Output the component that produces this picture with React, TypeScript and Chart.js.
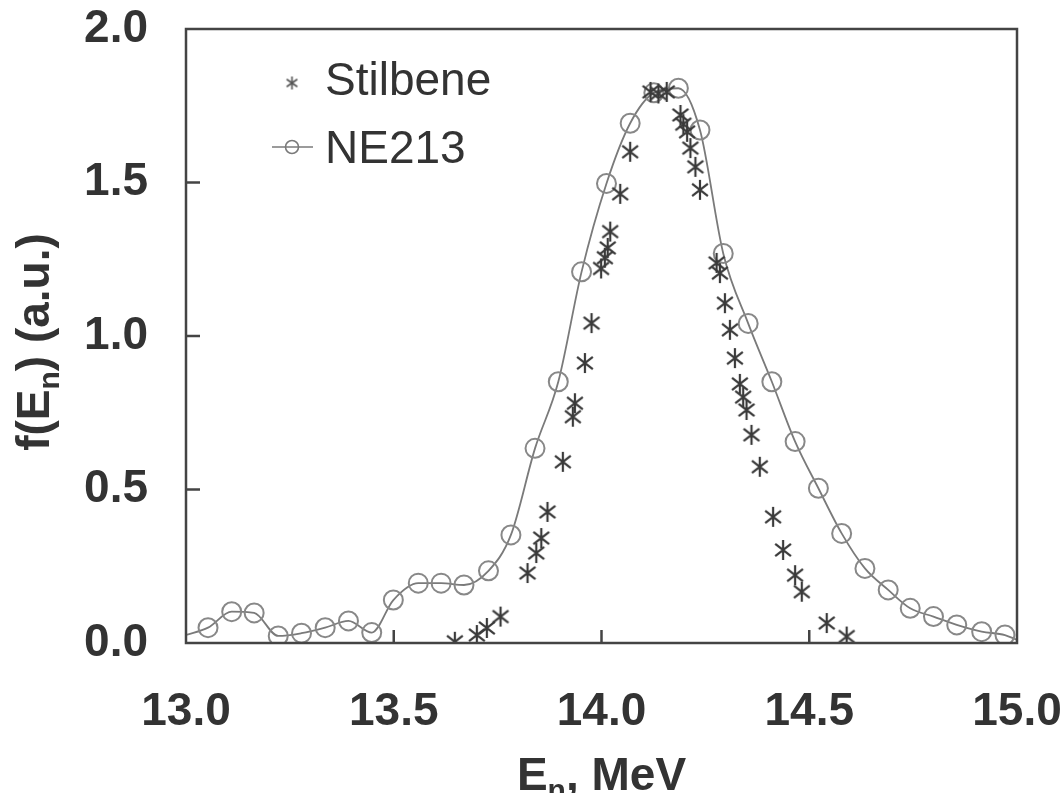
import React, { useEffect, useRef } from "react";
import { Chart, registerables } from "chart.js";
Chart.register(...registerables);

const FONT = "'Liberation Sans', Arial, Helvetica, sans-serif";

const xTickValues = [13.0, 13.5, 14.0, 14.5, 15.0];
const yTickValues = [0.0, 0.5, 1.0, 1.5, 2.0];

const seriesLabels = ["Stilbene", "NE213"];

const stilbeneX = [
  13.647, 13.7, 13.724, 13.757, 13.822, 13.843, 13.855, 13.87, 13.907, 13.931,
  13.936, 13.96, 13.976, 13.999, 14.008, 14.015, 14.021, 14.045, 14.069, 14.118,
  14.137, 14.157, 14.19, 14.197, 14.206, 14.214, 14.226, 14.237, 14.277, 14.285,
  14.297, 14.309, 14.321, 14.333, 14.341, 14.349, 14.361, 14.381, 14.413, 14.437,
  14.466, 14.482, 14.542, 14.59,
];
const stilbeneY = [
  0.004, 0.026, 0.049, 0.086, 0.228, 0.293, 0.342, 0.427, 0.59, 0.737,
  0.781, 0.912, 1.042, 1.22, 1.255, 1.287, 1.34, 1.463, 1.6, 1.795,
  1.79, 1.795, 1.72, 1.69, 1.665, 1.612, 1.551, 1.476, 1.238, 1.205,
  1.107, 1.02, 0.928, 0.844, 0.801, 0.759, 0.678, 0.574, 0.411, 0.303,
  0.221, 0.167, 0.065, 0.021,
];

const ne213X = [
  13.0, 13.053, 13.11, 13.164, 13.222, 13.278, 13.335, 13.391, 13.447, 13.499,
  13.559, 13.614, 13.669, 13.728, 13.782, 13.84, 13.896, 13.952, 14.012, 14.069,
  14.126, 14.185, 14.237, 14.293, 14.353, 14.41, 14.466, 14.522, 14.578, 14.634,
  14.69, 14.743, 14.799, 14.855, 14.915, 14.971, 15.0,
];
const ne213Y = [
  0.026, 0.05, 0.102, 0.098, 0.023, 0.032, 0.05, 0.072, 0.034, 0.14,
  0.195, 0.195, 0.189, 0.235, 0.352, 0.634, 0.851, 1.209, 1.497, 1.693,
  1.792, 1.807, 1.671, 1.269, 1.041, 0.851, 0.656, 0.504, 0.357, 0.243,
  0.173, 0.113, 0.086, 0.059, 0.037, 0.026, 0.01,
];

function makeAsterisk(size: number, lw: number, color: string, angleDeg: number) {
  const c = document.createElement("canvas");
  c.width = size;
  c.height = size;
  const g = c.getContext("2d")!;
  g.strokeStyle = color;
  g.lineWidth = lw;
  const cx = size / 2;
  const cy = size / 2;
  const r = size / 2 - 1;
  const a = (angleDeg * Math.PI) / 180;
  const dx = r * Math.sin(a);
  const dy = r * Math.cos(a);
  g.beginPath();
  g.moveTo(cx, cy - r);
  g.lineTo(cx, cy + r);
  g.moveTo(cx - dx, cy - dy);
  g.lineTo(cx + dx, cy + dy);
  g.moveTo(cx + dx, cy - dy);
  g.lineTo(cx - dx, cy + dy);
  g.stroke();
  return c;
}

function zeroPad(s: any) {
  s.paddingTop = 0;
  s.paddingBottom = 0;
  s.paddingLeft = 0;
  s.paddingRight = 0;
}

export default function App() {
  const ref = useRef<HTMLCanvasElement | null>(null);

  useEffect(() => {
    if (!ref.current) return;
    const starBig = makeAsterisk(22, 2.2, "#3a3a3a", 52);
    const starSmall = makeAsterisk(15, 1.6, "#555", 55);
    const lastIdx = ne213X.length - 1;

    const framePlugin = {
      id: "frameTicks",
      afterDatasetsDraw(chart: any) {
        const { ctx, chartArea: a } = chart;
        const xs = chart.scales.x;
        const ys = chart.scales.y;
        ctx.save();
        ctx.strokeStyle = "#444";
        ctx.lineWidth = 2.5;
        ctx.strokeRect(a.left, a.top, a.right - a.left, a.bottom - a.top);
        ctx.beginPath();
        xs.ticks.forEach((t: any) => {
          const px = xs.getPixelForValue(t.value);
          if (px <= a.left + 1 || px >= a.right - 1) return;
          ctx.moveTo(px, a.bottom);
          ctx.lineTo(px, a.bottom - 13);
        });
        ys.ticks.forEach((t: any) => {
          const py = ys.getPixelForValue(t.value);
          if (py <= a.top + 1 || py >= a.bottom - 1) return;
          ctx.moveTo(a.left, py);
          ctx.lineTo(a.left + 14, py);
        });
        ctx.stroke();
        ctx.restore();
      },
      afterDraw(chart: any) {
        const { ctx, chartArea: a } = chart;
        ctx.save();
        ctx.fillStyle = "#333";
        ctx.textBaseline = "alphabetic";
        ctx.textAlign = "left";
        const big = `bold 46px ${FONT}`;
        const sub = `bold 30px ${FONT}`;
        // X title
        ctx.font = big;
        const w1 = ctx.measureText("E").width;
        const w3 = ctx.measureText(", MeV").width;
        ctx.font = sub;
        const w2 = ctx.measureText("n").width;
        const sx = (a.left + a.right) / 2 - (w1 + w2 + w3) / 2;
        const by = 790;
        ctx.font = big;
        ctx.fillText("E", sx, by);
        ctx.font = sub;
        ctx.fillText("n", sx + w1, by + 10);
        ctx.font = big;
        ctx.fillText(", MeV", sx + w1 + w2, by);

        // Y title
        ctx.save();
        ctx.translate(49, 342);
        ctx.rotate(-Math.PI / 2);
        ctx.font = big;
        const p1 = ctx.measureText("f(E").width;
        const p3 = ctx.measureText(") (a.u.)").width;
        ctx.font = sub;
        const p2 = ctx.measureText("n").width;
        const st = -(p1 + p2 + p3) / 2;
        ctx.font = big;
        ctx.fillText("f(E", st, 0);
        ctx.font = sub;
        ctx.fillText("n", st + p1, 10);
        ctx.font = big;
        ctx.fillText(") (a.u.)", st + p1 + p2, 0);
        ctx.restore();

        // Legend
        const ds = chart.data.datasets;
        ctx.font = `46px ${FONT}`;
        ctx.fillStyle = "#333";
        ctx.drawImage(starSmall, 292 - 7.5, 83 - 7.5);
        ctx.fillText(ds[0].label, 325, 95);
        ctx.strokeStyle = "#7a7a7a";
        ctx.lineWidth = 1.6;
        ctx.beginPath();
        ctx.moveTo(272, 147);
        ctx.lineTo(313, 147);
        ctx.stroke();
        ctx.beginPath();
        ctx.arc(292, 147, 6.5, 0, Math.PI * 2);
        ctx.stroke();
        ctx.fillText(ds[1].label, 325, 163);
        ctx.restore();
      },
    };

    const chart = new Chart(ref.current, {
      type: "scatter",
      data: {
        datasets: [
          {
            label: seriesLabels[0],
            data: stilbeneX.map((x, i) => ({ x, y: stilbeneY[i] })),
            pointStyle: starBig as any,
            pointRadius: 11,
            showLine: false,
          },
          {
            label: seriesLabels[1],
            data: ne213X.map((x, i) => ({ x, y: ne213Y[i] })),
            showLine: true,
            borderColor: "#7a7a7a",
            borderWidth: 1.8,
            cubicInterpolationMode: "monotone",
            pointStyle: "circle",
            pointRadius: (c: any) => (c.dataIndex === 0 || c.dataIndex === lastIdx ? 0 : 9.5),
            pointBorderColor: "#888",
            pointBorderWidth: 2,
            pointBackgroundColor: "rgba(0,0,0,0)",
            fill: false,
          } as any,
        ],
      },
      options: {
        responsive: false,
        animation: false,
        layout: { padding: { top: 29, right: 47, left: 0, bottom: 0 } },
        plugins: { legend: { display: false }, tooltip: { enabled: false } },
        scales: {
          x: {
            type: "linear",
            min: 13,
            max: 15,
            afterBuildTicks: (s: any) => {
              s.ticks = xTickValues.map((v) => ({ value: v }));
            },
            afterFit: (s: any) => {
              s.height = 150;
              zeroPad(s);
            },
            ticks: {
              callback: (v: any) => Number(v).toFixed(1),
              font: { family: FONT, size: 46, weight: "bold" },
              color: "#333",
              padding: 42,
              maxRotation: 0,
              autoSkip: false,
            },
            grid: { display: false, drawTicks: false },
            border: { display: false },
          },
          y: {
            type: "linear",
            min: 0,
            max: 2,
            afterBuildTicks: (s: any) => {
              s.ticks = yTickValues.map((v) => ({ value: v }));
            },
            afterFit: (s: any) => {
              s.width = 186;
              zeroPad(s);
            },
            ticks: {
              callback: (v: any) => Number(v).toFixed(1),
              font: { family: FONT, size: 46, weight: "bold" },
              color: "#333",
              padding: 38,
              autoSkip: false,
            },
            grid: { display: false, drawTicks: false },
            border: { display: false },
          },
        },
      },
      plugins: [framePlugin],
    });
    return () => chart.destroy();
  }, []);

  return (
    <div style={{ position: "absolute", left: 0, top: 0, width: 1064, height: 793, background: "#fff" }}>
      <canvas ref={ref} width={1064} height={793} style={{ display: "block" }} />
    </div>
  );
}
